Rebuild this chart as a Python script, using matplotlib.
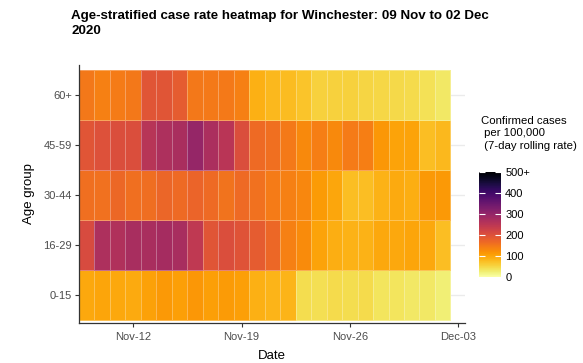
import numpy as np
import pandas as pd
import matplotlib
matplotlib.use('Agg')
import matplotlib.pyplot as plt
import matplotlib.dates as mdates

plt.rcParams['font.family'] = ['Liberation Sans', 'DejaVu Sans']

# data (cases per 100k, 7-day rolling rate)
dates = pd.date_range('2020-11-09', '2020-12-02', freq='D')
age_groups = ['0-15', '16-29', '30-44', '45-59', '60+']

rate_0_15 = [96, 100, 97, 95, 105, 112, 106, 115, 106, 110, 106, 88,
             85, 85, 44, 42, 46, 44, 45, 37, 37, 32, 32, 25]
rate_16_29 = [210, 268, 264, 274, 272, 278, 275, 245, 195, 205, 196, 185,
              168, 140, 128, 102, 90, 86, 86, 96, 96, 100, 96, 76]
rate_30_44 = [160, 158, 168, 160, 162, 170, 165, 172, 165, 155, 165, 157,
              145, 140, 132, 110, 98, 76, 76, 86, 95, 90, 112, 112]
rate_45_59 = [195, 200, 205, 205, 255, 268, 272, 298, 270, 252, 205, 165,
              160, 148, 130, 142, 130, 145, 142, 115, 102, 102, 76, 82]
rate_60_plus = [150, 140, 145, 150, 195, 195, 185, 150, 148, 148, 140, 88,
                82, 78, 70, 55, 56, 56, 52, 50, 47, 45, 40, 32]

rates = np.array([rate_0_15, rate_16_29, rate_30_44, rate_45_59, rate_60_plus])

tick_dates = pd.to_datetime(['2020-11-12', '2020-11-19', '2020-11-26', '2020-12-03'])
cbar_ticks = [0, 100, 200, 300, 400, 500]
cbar_labels = ['0', '100', '200', '300', '400', '500+']

fig = plt.figure(figsize=(5.83, 3.63), dpi=100)
ax = fig.add_axes([79/583, 1-323/363, 386/583, 258/363])

x = mdates.date2num(dates)
x_edges = np.append(x - 0.5, x[-1] + 0.5)
y_edges = np.arange(len(age_groups) + 1) - 0.5

mesh = ax.pcolormesh(x_edges, y_edges, rates, cmap='inferno_r', vmin=0, vmax=500,
                     edgecolors=(1, 1, 1, 0.3), linewidth=0.6)

ax.set_xlim(x[0] - 0.5, x[-1] + 1.44)
ax.set_ylim(-0.56, 4.6)
ax.set_xticks(mdates.date2num(tick_dates))
ax.xaxis.set_major_formatter(mdates.DateFormatter('%b-%d'))
ax.set_yticks(range(len(age_groups)))
ax.set_yticklabels(age_groups)

ax.grid(axis='y', color='#EBEBEB', lw=1)
ax.set_axisbelow(True)
for s in ['top', 'right']:
    ax.spines[s].set_visible(False)
for s in ['left', 'bottom']:
    ax.spines[s].set_color('#333333')
    ax.spines[s].set_linewidth(0.9)
ax.tick_params(length=3, width=0.8, color='#333333', labelsize=8,
               labelcolor='#4D4D4D', pad=2)
ax.tick_params(axis='x', pad=3.5)

ax.set_xlabel('Date', fontsize=9.5, labelpad=6)
ax.set_ylabel('Age group', fontsize=9.5, labelpad=6)

# colourbar
cax = fig.add_axes([479/583, 1-277/363, 22/583, 105/363])
cb = fig.colorbar(mesh, cax=cax, ticks=cbar_ticks)
cb.set_ticklabels(cbar_labels)
cb.outline.set_visible(False)
cax.tick_params(direction='in', length=4, color='white', width=0.8,
                left=True, right=True, labelsize=8, pad=3)

fig.text(481/583, 1-116/363, 'Confirmed cases\n per 100,000\n (7-day rolling rate)',
         va='top', ha='left', fontsize=8.2, linespacing=1.3)

fig.text(71/583, 1-10/363,
         'Age-stratified case rate heatmap for Winchester: 09 Nov to 02 Dec\n2020',
         va='top', ha='left', fontsize=9.6, fontweight='bold', linespacing=1.35)

fig.savefig('out.png', dpi=100)
